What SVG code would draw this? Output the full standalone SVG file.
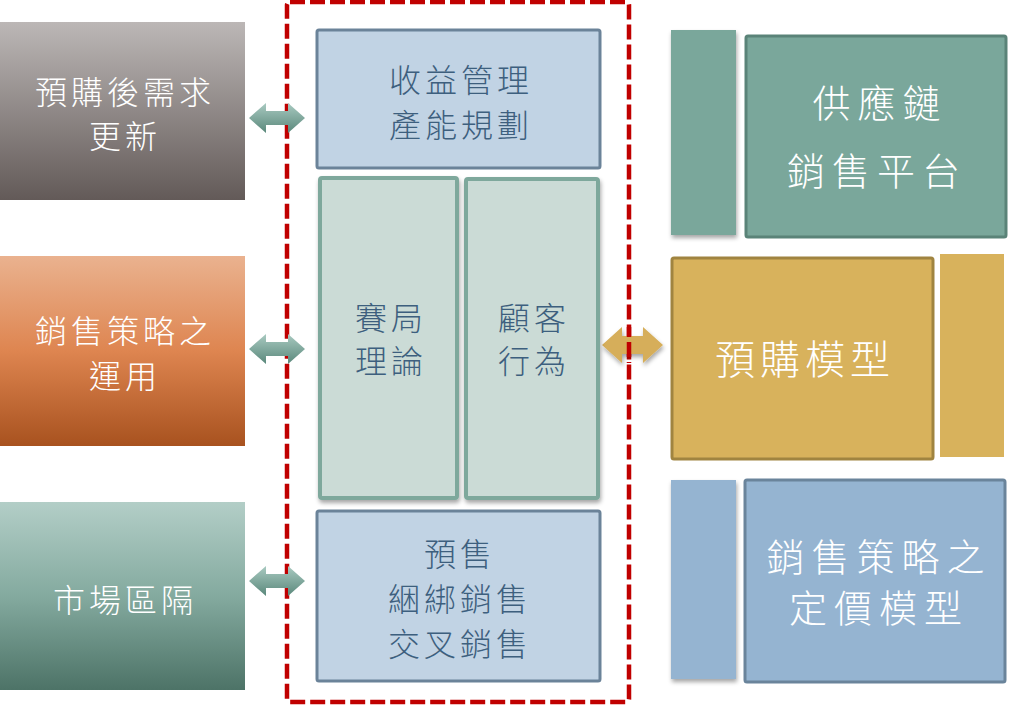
<svg xmlns="http://www.w3.org/2000/svg" width="1016" height="706" viewBox="0 0 1016 706">
<defs>
<linearGradient id="gGray" x1="0" y1="0" x2="0" y2="1"><stop offset="0" stop-color="#bcb7b6"/><stop offset="1" stop-color="#635a58"/></linearGradient>
<linearGradient id="gOrange" x1="0" y1="0" x2="0" y2="1"><stop offset="0" stop-color="#eab28f"/><stop offset="0.5" stop-color="#de8550"/><stop offset="1" stop-color="#a8521f"/></linearGradient>
<linearGradient id="gTeal" x1="0" y1="0" x2="0" y2="1"><stop offset="0" stop-color="#b3cec7"/><stop offset="0.5" stop-color="#84aa9f"/><stop offset="1" stop-color="#4d7367"/></linearGradient>
<linearGradient id="gArrow" x1="0" y1="0" x2="0" y2="1"><stop offset="0" stop-color="#a9cac1"/><stop offset="1" stop-color="#5a887b"/></linearGradient>
<filter id="sh" x="-20%" y="-10%" width="150%" height="130%"><feDropShadow dx="1" dy="3" stdDeviation="2" flood-color="#000" flood-opacity="0.35"/></filter>
</defs>
<style>
text{font-family:"Noto Sans CJK TC","Noto Sans CJK SC",sans-serif;text-anchor:middle;font-weight:300}
.w{fill:#ffffff}
.b{fill:#3d5f7e}
.l{font-size:32px;letter-spacing:4px}
.m{font-size:32px;letter-spacing:4px}
.r{font-size:38px;letter-spacing:7px}
.blue{fill:#c1d3e4;stroke:#6b8399;stroke-width:3}
.grn{fill:#cbdbd6;stroke:#7ea89c;stroke-width:4}
</style>
<rect width="1016" height="706" fill="#ffffff"/>

<g id="connectors">
<rect x="287" y="2" width="342" height="700" rx="3" fill="none" stroke="#c00000" stroke-width="4.5" stroke-dasharray="15 5"/>
<polygon points="249,118 266,103 266,111 288,111 288,103 305,118 288,133 288,125 266,125 266,133" fill="url(#gArrow)"/>
<polygon points="249,349 266,334 266,342 288,342 288,334 305,349 288,364 288,356 266,356 266,364" fill="url(#gArrow)"/>
<polygon points="249,581 266,566 266,574 288,574 288,566 305,581 288,596 288,588 266,588 266,596" fill="url(#gArrow)"/>
<polygon points="602,345 622,327 622,336 643,336 643,327 663,345 643,363 643,354 622,354 622,363" fill="#d6ae5a" filter="url(#sh)"/>
<line x1="629" y1="327" x2="629" y2="363" stroke="#c00000" stroke-width="4.5" stroke-dasharray="15 5" stroke-dashoffset="5"/>
</g>

<g id="left1">
<rect x="0" y="22" width="245" height="178" fill="url(#gGray)"/>
<text class="w l" x="125" y="104">預購後需求</text>
<text class="w l" x="125" y="148">更新</text>
</g>
<g id="left2">
<rect x="0" y="256" width="245" height="190" fill="url(#gOrange)"/>
<text class="w l" x="125" y="343">銷售策略之</text>
<text class="w l" x="125" y="388">運用</text>
</g>
<g id="left3">
<rect x="0" y="502" width="245" height="188" fill="url(#gTeal)"/>
<text class="w l" x="125" y="612">市場區隔</text>
</g>

<g id="revenue">
<rect class="blue" x="317" y="30" width="283" height="138" rx="2"/>
<text class="b m" x="461" y="92">收益管理</text>
<text class="b m" x="461" y="137">產能規劃</text>
</g>
<g id="game">
<rect class="grn" x="320" y="178" width="137" height="320" rx="2" filter="url(#sh)"/>
<text class="b m" x="391" y="330">賽局</text>
<text class="b m" x="391" y="373">理論</text>
</g>
<g id="customer">
<rect class="grn" x="466" y="179" width="132" height="319" rx="2" filter="url(#sh)"/>
<text class="b m" x="534" y="330">顧客</text>
<text class="b m" x="534" y="373">行為</text>
</g>
<g id="presale">
<rect class="blue" x="317" y="511" width="283" height="170" rx="2"/>
<text class="b m" x="460" y="566">預售</text>
<text class="b m" x="460" y="611">綑綁銷售</text>
<text class="b m" x="460" y="656">交叉銷售</text>
</g>

<g id="supply">
<rect x="671" y="30" width="65" height="205" fill="#7aa79b" filter="url(#sh)"/>
<rect x="746" y="36" width="260" height="201" rx="2" fill="#7aa79b" stroke="#5a8378" stroke-width="3"/>
<text class="w r" x="880" y="117">供應鏈</text>
<text class="w r" x="877" y="185">銷售平台</text>
</g>
<g id="preorder">
<rect x="672" y="258" width="261" height="201" rx="2" fill="#d8b25c" stroke="#a08440" stroke-width="3"/>
<rect x="940" y="254" width="64" height="203" fill="#d8b25c"/>
<text class="w" x="805" y="374" style="font-size:40px;letter-spacing:5px">預購模型</text>
</g>
<g id="pricing">
<rect x="671" y="480" width="65" height="199" fill="#95b4d1" filter="url(#sh)"/>
<rect x="745" y="480" width="260" height="202" rx="2" fill="#95b4d1" stroke="#6a849b" stroke-width="3"/>
<text class="w r" x="879" y="571">銷售策略之</text>
<text class="w r" x="879" y="622">定價模型</text>
</g>
</svg>
